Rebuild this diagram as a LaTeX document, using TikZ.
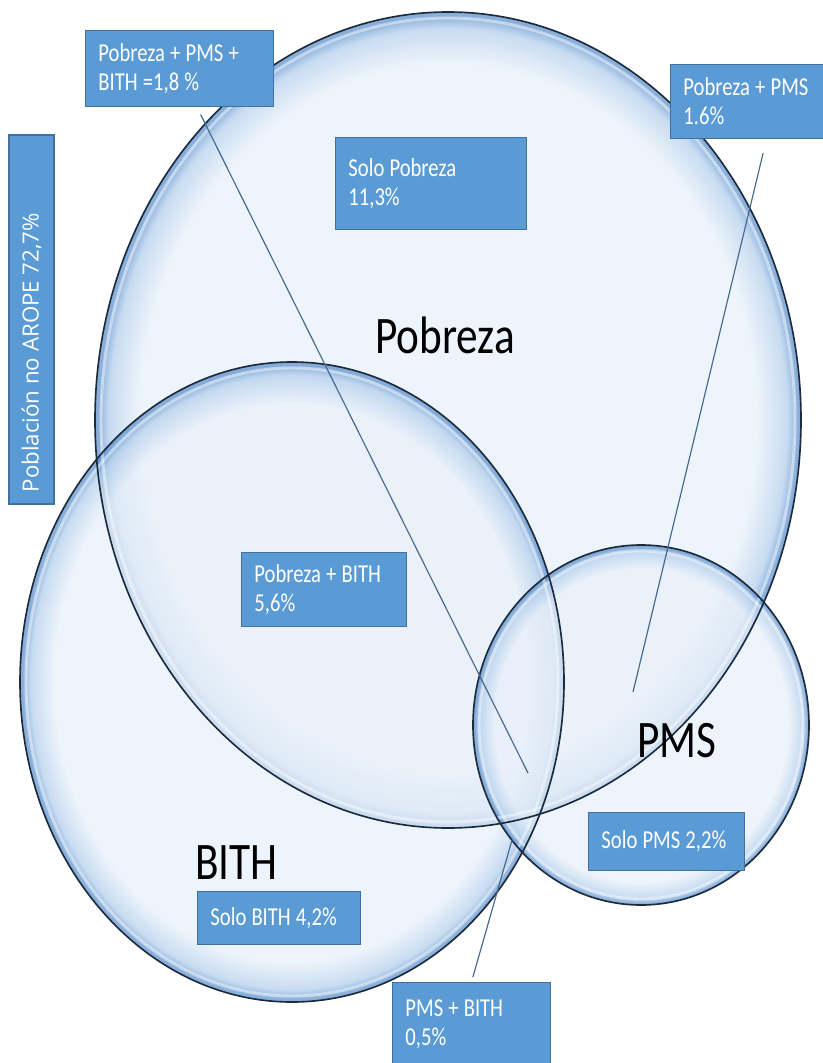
\documentclass[tikz,border=0pt]{standalone}
\usepackage{fontspec}
\setmainfont{Carlito}[FakeStretch=0.82]
\newfontfamily\tagfamily{Carlito}[FakeStretch=0.8]
\newfontfamily\sidefont{Open Sans}
\definecolor{TagFill}{HTML}{5B9BD5}
\definecolor{TagEdge}{HTML}{41719C}
\definecolor{BubbleCore}{HTML}{E8F0F9}
\definecolor{BubbleMid}{HTML}{B2CEEC}
\definecolor{BubbleRim}{HTML}{5B8FCC}
\definecolor{BubbleLine}{HTML}{1C2B3C}
\definecolor{LeaderBlue}{HTML}{46698F}
\pgfdeclareradialshading{bubble}{\pgfpoint{0bp}{0bp}}{color(0bp)=(BubbleCore); color(21.8bp)=(BubbleCore); color(24bp)=(BubbleMid); color(24.8bp)=(BubbleRim); color(25bp)=(BubbleRim); color(50bp)=(BubbleRim)}

\begin{document}
\begin{tikzpicture}[x=0.03cm, y=-0.03cm, every node/.style={font=\tagfamily\fontsize{22}{24.8}\selectfont}]
  \tikzstyle{tag}=[rectangle, draw=TagEdge, fill=TagFill, text=white, line width=1pt,
  align=left, inner xsep=11pt, inner ysep=0pt, anchor=north west,
  execute at begin node={\spaceskip=0.2em plus 0.1em minus 0.05em\relax}]
  \tikzstyle{bubbleshade}=[shading=bubble, fill opacity=0.72]
  \tikzstyle{bubbleedge}=[draw=BubbleLine, line width=1.4pt]
  \tikzstyle{bubbleshine}=[draw=white, line width=2.5pt, opacity=0.45]
  \tikzstyle{setname}=[font=\rmfamily\fontsize{45}{50}\selectfont, inner sep=0pt, anchor=base west]
  \tikzstyle{leader}=[draw=LeaderBlue, line width=1pt]
  \useasboundingbox (0,0) rectangle (823,1063);
  \clip (0,0) rectangle (823,1063);

  % the three sets
  \path[bubbleshade] (448,420) ellipse [x radius=353, y radius=408];
  \path[bubbleshade] (292,682) ellipse [x radius=272, y radius=320];
  \path[bubbleshade] (641,725) ellipse [x radius=168, y radius=180];
  \path[bubbleshine] (448,420) ellipse [x radius=347, y radius=402];
  \path[bubbleshine] (292,682) ellipse [x radius=266, y radius=314];
  \path[bubbleshine] (641,725) ellipse [x radius=162, y radius=174];
  \path[bubbleedge] (448,420) ellipse [x radius=353, y radius=408];
  \path[bubbleedge] (292,682) ellipse [x radius=272, y radius=320];
  \path[bubbleedge] (641,725) ellipse [x radius=168, y radius=180];

  \node[setname] (pobrezaname) at (375,353) {Pobreza};
  \node[setname] (pmsname) at (637,757) {PMS};
  \node[setname] (bithname) at (195,879) {BITH};

  % labels
  \node[tag, text width=4.86cm, minimum height=2.28cm] (triple) at (85,30) {Pobreza + PMS +\\BITH =1,8 \%};
  \node[tag, text width=4.95cm, minimum height=2.76cm] (solopobreza) at (335,137) {Solo Pobreza\\11,3\%};
  \node[tag, text width=4.62cm, minimum height=2.22cm] (pobpms) at (670,64) {Pobreza + PMS\\1.6\%};
  \node[tag, text width=4.17cm, minimum height=2.22cm] (pobbith) at (241,552) {Pobreza + BITH\\5,6\%};
  \node[tag, text width=3.9cm, minimum height=1.74cm] (solopms) at (588,812) {Solo PMS 2,2\%};
  \node[tag, text width=4.11cm, minimum height=1.59cm] (solobith) at (197,891) {Solo BITH 4,2\%};
  \node[tag, text width=3.96cm, minimum height=2.5cm] (pmsbith) at (392,982) {PMS + BITH\\0,5\%};
  \node[tag, anchor=center, rotate=90, font=\sidefont\fontsize{19}{22}\selectfont, inner xsep=10pt,
    execute at begin node={\spaceskip=0.26em\relax},
    text width=10.37cm, minimum height=1.35cm] (noarope) at (31.5,319.5) {Población no AROPE 72,7\%};

  \coordinate (tripleTip) at (528,773);
  \coordinate (pobpmsTip) at (633,692);
  \coordinate (pmsbithTip) at (512,840);
  \draw[leader, shorten <=0.25cm] ([xshift=0.525cm]triple.south) -- (tripleTip);
  \draw[leader, shorten <=0.43cm] ([xshift=0.18cm]pobpms.south) -- (pobpmsTip);
  \draw[leader, shorten <=0.15cm] (pmsbith.north) -- (pmsbithTip);
\end{tikzpicture}
\end{document}
